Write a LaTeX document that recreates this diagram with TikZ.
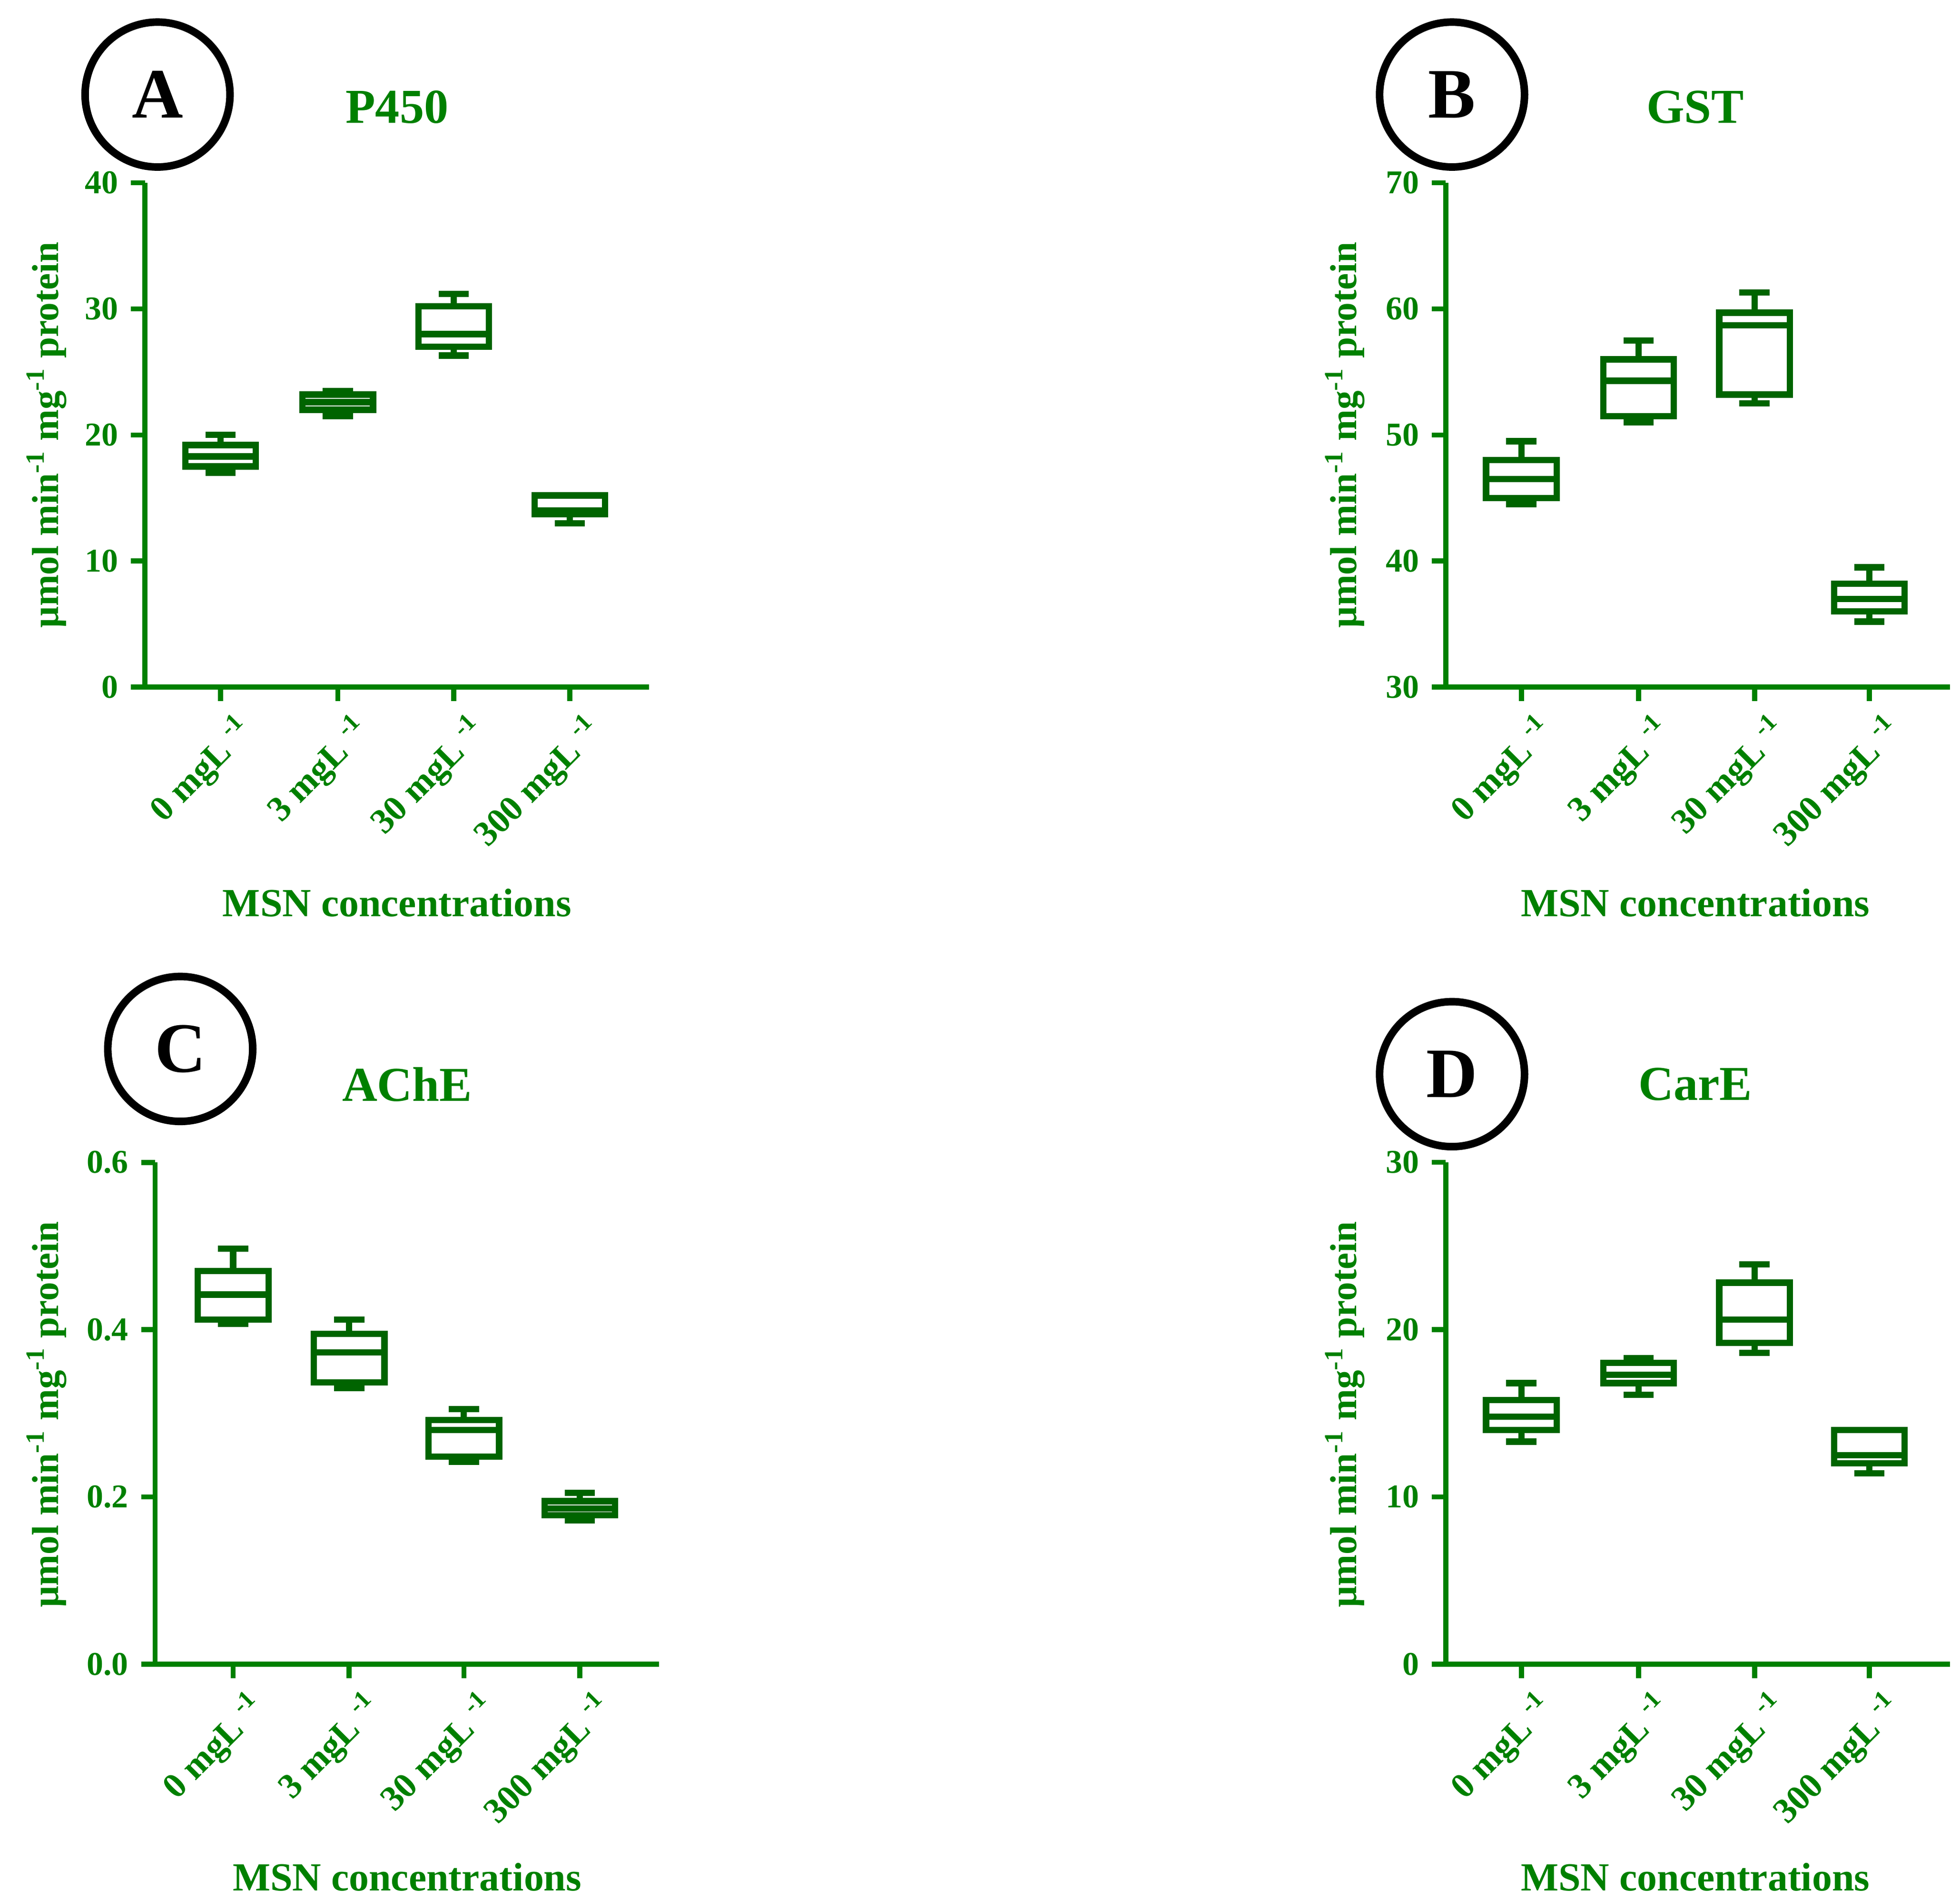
\documentclass[tikz,border=0pt]{standalone}
\usepackage{fontspec}
\setmainfont{Liberation Serif}
\definecolor{ax}{RGB}{0,128,0}
\definecolor{bx}{RGB}{0,100,0}
\tikzset{
 axis/.style={ax,line width=0.08cm},
 boxl/.style={bx,line width=0.1cm},
 tick/.style={ax,font=\bfseries\fontsize{15}{15}\selectfont,anchor=east},
 cat/.style={ax,font=\bfseries\fontsize{16}{16}\selectfont,rotate=45,anchor=north east,inner sep=1pt},
 ttl/.style={ax,font=\bfseries\fontsize{22}{22}\selectfont},
 xl/.style={ax,font=\bfseries\fontsize{18}{18}\selectfont},
 yl/.style={ax,font=\bfseries\fontsize{17}{17}\selectfont,rotate=90},
 circ/.style={circle,draw=black,line width=0.12cm,minimum size=2.3cm,font=\bfseries\fontsize{32}{32}\selectfont}
}
\newcommand{\mybox}[6]{%
 \draw[boxl] (#1-28,#3) rectangle (#1+28,#5);
 \draw[boxl] (#1-28,#4) -- (#1+28,#4);
 \draw[boxl] (#1,#3) -- (#1,#2) (#1-12,#2) -- (#1+12,#2);
 \draw[boxl] (#1,#5) -- (#1,#6) (#1-12,#6) -- (#1+12,#6);}
\newcommand{\cats}[5]{%
 \foreach \cx/\lab in {#2/0,#3/3,#4/30,#5/300}{
  \draw[axis] (\cx,#1) -- (\cx,#1+11);
  \node[cat] at (\cx+10,#1+16) {\lab\ mgL \textsuperscript{-1}};}}
\newcommand{\ylab}[2]{\node[yl] at (#1,#2) {µmol min\textsuperscript{-1} mg\textsuperscript{-1} protein};}
\begin{document}
\begin{tikzpicture}[x=0.02cm,y=-0.02cm]
\useasboundingbox (0,0) rectangle (1555,1507);
% ---------- A
\node[circ] (ca) at (125,75) {A};
\node[ttl] (ta) at (315,85) {P450};
\draw[axis] (115,145) -- (115,545) -- (515,545);
\foreach \v/\t in {0/0,10/10,20/20,30/30,40/40}{
 \draw[axis] (115,545-10*\v) -- (104,545-10*\v); \node[tick] at (100,545-10*\v) {\t};}
\cats{545}{175}{268}{360}{452}
\node[xl] at (315,716) {MSN concentrations};
\ylab{37}{345}
\begin{scope}[shift={(0,545)},yscale=-10]
\mybox{175}{17}{17.5}{18.3}{19.2}{20}
\mybox{268}{21.5}{22}{22.6}{23.2}{23.5}
\mybox{360}{26.3}{27}{28}{30.2}{31.2}
\mybox{452}{13}{13.7}{14}{15.2}{15.2}
\end{scope}
% ---------- B
\node[circ] (cb) at (1152,75) {B};
\node[ttl] (tb) at (1345,85) {GST};
\draw[axis] (1147,145) -- (1147,545) -- (1547,545);
\foreach \v in {30,40,50,60,70}{
 \draw[axis] (1147,845-10*\v) -- (1136,845-10*\v); \node[tick] at (1132,845-10*\v) {\v};}
\cats{545}{1207}{1300}{1392}{1483}
\node[xl] at (1345,716) {MSN concentrations};
\ylab{1067}{345}
\begin{scope}[shift={(0,845)},yscale=-10]
\mybox{1207}{44.5}{45}{46.5}{48}{49.5}
\mybox{1300}{51}{51.5}{54.3}{56}{57.5}
\mybox{1392}{52.5}{53.2}{58.7}{59.7}{61.3}
\mybox{1483}{35.2}{36}{37}{38.2}{39.5}
\end{scope}
% ---------- C
\node[circ] (cc) at (143,832) {C};
\node[ttl] (tc) at (323,860) {AChE};
\draw[axis] (123,922) -- (123,1320) -- (523,1320);
\foreach \v/\t in {0/0.0,0.2/0.2,0.4/0.4,0.6/0.6}{
 \draw[axis] (123,1320-663.33*\v) -- (112,1320-663.33*\v); \node[tick] at (108,1320-663.33*\v) {\t};}
\cats{1320}{185}{277}{368}{460}
\node[xl] at (323,1489) {MSN concentrations};
\ylab{37}{1122}
\begin{scope}[shift={(0,1320)},yscale=-663.33]
\mybox{185}{0.407}{0.412}{0.442}{0.47}{0.497}
\mybox{277}{0.33}{0.337}{0.373}{0.395}{0.412}
\mybox{368}{0.242}{0.248}{0.28}{0.292}{0.305}
\mybox{460}{0.172}{0.178}{0.186}{0.195}{0.205}
\end{scope}
% ---------- D
\node[circ] (cd) at (1152,852) {D};
\node[ttl] (td) at (1345,860) {CarE};
\draw[axis] (1147,922) -- (1147,1320) -- (1547,1320);
\foreach \v in {0,10,20,30}{
 \draw[axis] (1147,1320-13.27*\v) -- (1136,1320-13.27*\v); \node[tick] at (1132,1320-13.27*\v) {\v};}
\cats{1320}{1207}{1300}{1392}{1483}
\node[xl] at (1345,1489) {MSN concentrations};
\ylab{1067}{1122}
\begin{scope}[shift={(0,1320)},yscale=-13.27]
\mybox{1207}{13.3}{14}{14.8}{15.8}{16.8}
\mybox{1300}{16.1}{16.8}{17.3}{18}{18.3}
\mybox{1392}{18.6}{19.2}{20.6}{22.8}{23.9}
\mybox{1483}{11.4}{12}{12.5}{14}{14}
\end{scope}
\end{tikzpicture}
\end{document}
